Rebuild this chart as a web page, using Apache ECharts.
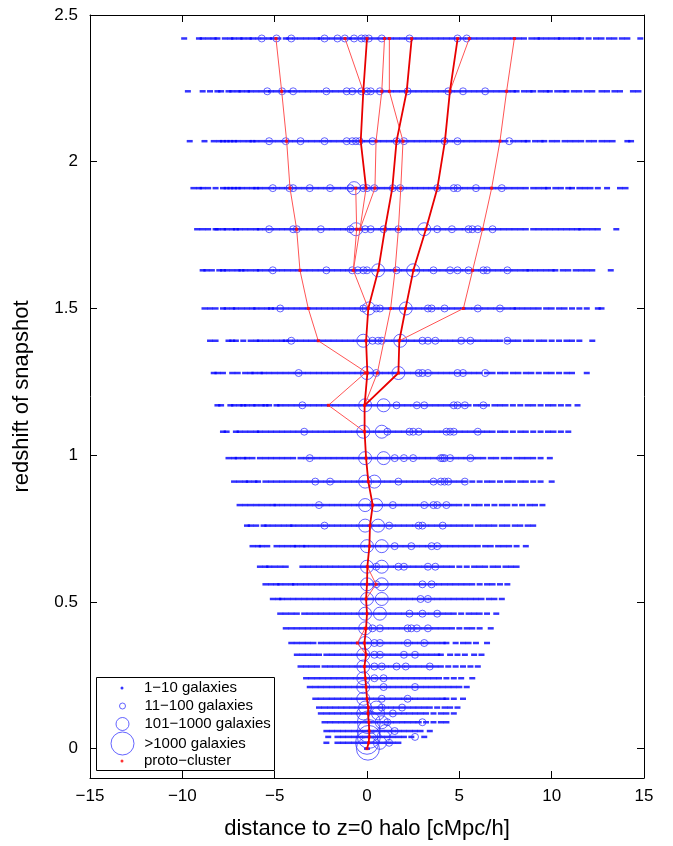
<!DOCTYPE html>
<html>
<head>
<meta charset="utf-8">
<script src="https://cdn.jsdelivr.net/npm/echarts@6/dist/echarts.min.js"></script>
<style>
  html, body { margin: 0; padding: 0; background: #fff; }
  #main { width: 673px; height: 846px; }
</style>
</head>
<body>
<div id="main"></div>
<script>
// snapshot redshifts, top row first
var snapZ = [2.42, 2.24, 2.07, 1.91, 1.77, 1.63, 1.50, 1.39, 1.28, 1.17, 1.08, 0.99, 0.91, 0.83, 0.76, 0.69, 0.62,
  0.56, 0.51, 0.46, 0.41, 0.36, 0.32, 0.28, 0.24, 0.21, 0.17, 0.14, 0.12, 0.09, 0.06, 0.04, 0.02, 0.00];

// halos with 1-10 galaxies (x distance per snapshot row)
var smallHalos = [
  [-9.9,-9.1,-8.9,-8.6,-8.3,-8.1,-7.7,-7.4,-7.2,-6.9,-6.7,-6.4,-6.2,-5.9,-5.6,-5.3,-5.1,-4.8,-4.4,-4.2,-3.9,-3.6,-3.3,-3.0,-2.7,-2.5,-2.2,-1.9,-1.6,-1.3,-1.0,-0.8,-0.5,-0.2,0.1,0.4,0.7,1.0,1.3,1.6,1.9,2.2,2.5,2.8,3.1,3.4,3.7,4.0,4.3,4.6,4.9,5.2,5.5,5.8,6.1,6.4,6.7,7.0,7.3,7.6,7.9,8.2,8.5,8.9,9.2,9.4,9.7,10.0,10.3,10.5,10.8,11.1,11.4,11.6,12.0,12.4,12.7,13.1,13.4,13.8,14.1,14.8],
  [-9.7,-8.9,-8.5,-8.1,-7.9,-7.5,-7.3,-7.0,-6.8,-6.5,-6.3,-6.0,-5.7,-5.4,-5.2,-4.9,-4.6,-4.3,-4.1,-3.8,-3.5,-3.2,-2.9,-2.6,-2.3,-2.0,-1.7,-1.4,-1.1,-0.8,-0.5,-0.2,0.1,0.4,0.7,1.0,1.3,1.6,1.9,2.2,2.5,2.8,3.1,3.4,3.7,4.0,4.3,4.6,4.9,5.2,5.5,5.8,6.1,6.4,6.7,7.0,7.3,7.6,7.9,8.1,8.5,8.8,9.0,9.4,9.7,9.9,10.3,10.6,10.8,11.2,11.5,11.9,12.2,12.7,13.0,13.4,13.7,14.4,14.7],
  [-9.6,-8.8,-8.3,-8.0,-7.8,-7.6,-7.4,-7.2,-7.0,-6.7,-6.4,-6.2,-6.0,-5.7,-5.4,-5.1,-4.8,-4.5,-4.2,-3.9,-3.6,-3.3,-3.0,-2.7,-2.4,-2.1,-1.8,-1.5,-1.2,-0.9,-0.6,-0.3,0.0,0.3,0.6,0.9,1.2,1.5,1.8,2.1,2.4,2.7,3.0,3.3,3.6,3.9,4.2,4.5,4.8,5.1,5.4,5.7,6.0,6.3,6.6,6.9,7.2,7.5,7.9,8.2,8.5,8.7,9.1,9.4,9.6,10.0,10.3,10.7,11.0,11.3,11.6,12.0,12.3,12.7,13.0,13.3,14.1,14.3],
  [-9.4,-9.1,-8.9,-8.6,-8.2,-7.8,-7.6,-7.4,-7.2,-7.0,-6.8,-6.5,-6.2,-6.0,-5.8,-5.5,-5.2,-4.9,-4.6,-4.3,-4.0,-3.7,-3.4,-3.1,-2.8,-2.5,-2.2,-1.9,-1.6,-1.3,-1.0,-0.7,-0.4,-0.1,0.2,0.5,0.8,1.1,1.4,1.7,2.0,2.3,2.6,2.9,3.2,3.5,3.8,4.1,4.4,4.7,5.0,5.3,5.6,5.9,6.2,6.5,6.8,7.1,7.4,7.7,8.0,8.3,8.6,9.0,9.3,9.6,9.8,10.2,10.5,10.9,11.1,11.5,11.8,12.1,12.5,13.0,13.7,14.0],
  [-9.2,-8.9,-8.6,-8.2,-8.1,-7.8,-7.6,-7.3,-7.1,-6.9,-6.6,-6.3,-6.0,-5.8,-5.5,-5.2,-4.9,-4.6,-4.3,-4.0,-3.7,-3.4,-3.1,-2.8,-2.5,-2.2,-1.9,-1.6,-1.3,-1.0,-0.7,-0.4,-0.1,0.2,0.5,0.8,1.1,1.4,1.7,2.0,2.3,2.6,2.9,3.2,3.5,3.8,4.1,4.4,4.7,5.0,5.3,5.6,5.9,6.2,6.5,6.8,7.1,7.4,7.7,8.0,8.3,8.6,9.0,9.3,9.6,9.9,10.2,10.5,10.8,11.1,11.4,11.6,11.9,12.2,12.5,13.5],
  [-8.9,-8.7,-8.4,-8.0,-7.8,-7.6,-7.3,-7.0,-6.8,-6.6,-6.3,-6.0,-5.8,-5.5,-5.2,-4.9,-4.6,-4.3,-4.0,-3.7,-3.4,-3.1,-2.8,-2.5,-2.2,-1.9,-1.6,-1.3,-1.0,-0.7,-0.4,-0.1,0.2,0.5,0.8,1.1,1.4,1.7,2.0,2.3,2.6,2.9,3.2,3.5,3.8,4.1,4.4,4.7,5.0,5.3,5.6,5.9,6.2,6.5,6.8,7.1,7.4,7.7,8.0,8.3,8.6,8.8,9.1,9.4,9.7,10.0,10.2,10.6,10.9,11.3,11.6,11.9,12.2,13.2],
  [-8.8,-8.5,-8.2,-7.8,-7.6,-7.3,-7.1,-6.8,-6.5,-6.2,-6.0,-5.7,-5.4,-5.2,-5.0,-4.7,-4.4,-4.1,-3.8,-3.5,-3.2,-2.9,-2.6,-2.3,-2.0,-1.7,-1.4,-1.1,-0.8,-0.5,-0.2,0.1,0.4,0.7,1.0,1.3,1.6,1.9,2.2,2.5,2.8,3.1,3.4,3.7,4.0,4.3,4.6,4.9,5.2,5.5,5.8,6.1,6.4,6.7,7.0,7.3,7.6,7.9,8.1,8.4,8.7,9.0,9.3,9.7,10.0,10.4,10.7,11.1,11.5,11.9,12.5,12.7],
  [-8.5,-8.2,-7.5,-7.3,-7.1,-6.7,-6.3,-6.0,-5.8,-5.5,-5.2,-4.9,-4.6,-4.4,-4.2,-3.9,-3.6,-3.3,-3.0,-2.7,-2.4,-2.1,-1.8,-1.5,-1.2,-0.9,-0.6,-0.3,0.0,0.3,0.6,0.9,1.2,1.5,1.8,2.1,2.4,2.7,3.0,3.3,3.6,3.9,4.2,4.5,4.8,5.1,5.4,5.7,6.0,6.3,6.6,6.9,7.2,7.6,7.9,8.2,8.6,8.9,9.3,9.6,10.0,10.4,10.8,11.1,11.5,12.2],
  [-8.3,-8.1,-7.8,-7.3,-7.0,-6.6,-6.3,-6.1,-5.8,-5.6,-5.3,-5.0,-4.7,-4.4,-4.1,-3.8,-3.5,-3.2,-2.9,-2.6,-2.3,-2.0,-1.7,-1.4,-1.1,-0.8,-0.5,-0.2,0.1,0.4,0.7,1.0,1.3,1.6,1.9,2.2,2.5,2.8,3.1,3.4,3.7,4.0,4.3,4.6,4.9,5.2,5.5,5.8,6.1,6.5,6.8,7.2,7.5,7.9,8.2,8.6,8.9,9.3,9.7,10.0,10.4,10.8,11.1,11.9],
  [-8.1,-7.9,-7.4,-7.2,-6.9,-6.7,-6.5,-6.2,-6.0,-5.7,-5.5,-5.3,-4.9,-4.7,-4.4,-4.1,-3.8,-3.5,-3.2,-2.9,-2.6,-2.3,-2.0,-1.7,-1.4,-1.1,-0.8,-0.5,-0.2,0.1,0.4,0.7,1.0,1.3,1.6,1.9,2.2,2.5,2.8,3.1,3.4,3.7,4.0,4.3,4.6,4.9,5.2,5.5,5.9,6.2,6.5,6.9,7.2,7.5,7.9,8.3,8.7,9.0,9.4,9.8,10.1,10.5,10.9,11.4],
  [-7.8,-7.6,-7.1,-6.9,-6.6,-6.3,-6.0,-5.8,-5.5,-5.2,-4.9,-4.6,-4.3,-4.0,-3.7,-3.4,-3.1,-2.8,-2.5,-2.2,-1.9,-1.6,-1.3,-1.0,-0.7,-0.4,-0.1,0.2,0.5,0.8,1.1,1.4,1.7,2.0,2.3,2.6,2.9,3.2,3.5,3.8,4.1,4.4,4.7,5.0,5.3,5.6,5.9,6.2,6.5,6.8,7.2,7.5,7.9,8.3,8.6,9.0,9.4,9.8,10.1,10.5,10.9],
  [-7.5,-7.2,-7.0,-6.7,-6.5,-6.2,-5.8,-5.5,-5.2,-4.9,-4.6,-4.3,-4.0,-3.6,-3.3,-3.0,-2.7,-2.4,-2.1,-1.8,-1.5,-1.2,-0.9,-0.6,-0.3,0.0,0.3,0.6,0.9,1.2,1.5,1.8,2.1,2.4,2.7,3.0,3.3,3.6,3.9,4.2,4.5,4.8,5.1,5.4,5.7,6.0,6.3,6.7,7.0,7.4,7.7,8.1,8.4,8.7,9.0,9.4,9.9],
  [-7.2,-6.9,-6.6,-6.4,-6.1,-5.9,-5.5,-5.2,-4.9,-4.6,-4.3,-4.0,-3.7,-3.4,-3.1,-2.8,-2.5,-2.2,-1.9,-1.6,-1.3,-1.0,-0.7,-0.4,-0.1,0.2,0.5,0.8,1.1,1.4,1.7,2.0,2.3,2.6,2.9,3.2,3.5,3.8,4.1,4.4,4.7,5.0,5.3,5.7,6.1,6.5,6.8,7.2,7.6,7.9,8.3,8.6,9.0,9.4,10.0],
  [-6.9,-6.6,-6.3,-6.0,-5.7,-5.4,-5.1,-4.9,-4.6,-4.3,-4.0,-3.7,-3.4,-3.1,-2.8,-2.5,-2.2,-1.9,-1.6,-1.3,-1.0,-0.7,-0.4,-0.1,0.2,0.5,0.8,1.1,1.4,1.7,2.0,2.3,2.6,2.9,3.2,3.5,3.8,4.1,4.4,4.7,5.0,5.4,5.8,6.1,6.5,6.9,7.3,7.6,8.0,8.4,8.8,9.1,9.5],
  [-6.5,-6.3,-6.0,-5.6,-5.4,-5.1,-4.8,-4.5,-4.2,-4.0,-3.7,-3.4,-3.1,-2.8,-2.5,-2.2,-1.9,-1.6,-1.3,-1.0,-0.7,-0.4,-0.1,0.2,0.5,0.8,1.1,1.4,1.7,2.0,2.3,2.6,2.9,3.2,3.5,3.8,4.1,4.4,4.7,5.0,5.3,5.6,6.0,6.3,6.6,6.9,7.3,7.6,8.0,8.3,8.7,9.0],
  [-6.2,-5.9,-5.7,-5.4,-4.9,-4.6,-4.3,-4.0,-3.8,-3.5,-3.3,-3.0,-2.7,-2.4,-2.1,-1.8,-1.5,-1.2,-0.9,-0.6,-0.3,0.0,0.3,0.6,0.9,1.2,1.5,1.8,2.1,2.4,2.7,3.0,3.3,3.6,3.9,4.2,4.5,4.8,5.1,5.4,5.7,6.0,6.4,6.7,7.1,7.4,7.7,8.1,8.6],
  [-5.8,-5.5,-5.3,-5.0,-4.7,-4.4,-3.5,-3.2,-2.9,-2.6,-2.3,-2.0,-1.7,-1.4,-1.1,-0.8,-0.5,-0.2,0.1,0.4,0.7,1.0,1.3,1.6,1.9,2.2,2.5,2.8,3.1,3.4,3.7,4.0,4.3,4.6,5.0,5.4,5.8,6.1,6.4,6.8,7.1,7.5,7.8,8.1],
  [-5.5,-5.2,-4.9,-4.7,-4.4,-4.1,-3.9,-3.6,-3.3,-3.0,-2.7,-2.4,-2.1,-1.8,-1.5,-1.2,-0.9,-0.6,-0.3,0.0,0.3,0.6,0.9,1.2,1.5,1.8,2.1,2.4,2.7,3.0,3.3,3.6,3.9,4.2,4.5,4.8,5.1,5.4,5.7,6.1,6.5,6.8,7.2,7.6],
  [-5.1,-4.8,-4.6,-4.3,-4.0,-3.7,-3.4,-3.1,-2.8,-2.5,-2.2,-1.9,-1.6,-1.3,-1.0,-0.7,-0.4,-0.1,0.2,0.5,0.8,1.1,1.4,1.7,2.0,2.3,2.6,2.9,3.2,3.5,3.8,4.1,4.4,4.7,5.0,5.3,5.6,5.9,6.2,6.6,6.9,7.3],
  [-4.7,-4.4,-4.1,-3.8,-3.4,-3.1,-2.8,-2.5,-2.2,-1.9,-1.6,-1.3,-1.0,-0.7,-0.4,-0.1,0.2,0.5,0.8,1.1,1.4,1.7,2.0,2.3,2.6,2.9,3.2,3.5,3.8,4.1,4.4,4.7,5.1,5.5,5.8,6.1,6.5,7.0],
  [-4.4,-4.1,-3.8,-3.5,-3.2,-2.9,-2.6,-2.3,-2.0,-1.7,-1.4,-1.1,-0.8,-0.5,-0.2,0.1,0.4,0.7,1.0,1.3,1.6,1.9,2.2,2.5,2.8,3.1,3.4,3.7,4.0,4.3,4.6,5.0,5.4,5.7,6.1,6.7],
  [-4.1,-3.8,-3.5,-3.2,-2.9,-2.5,-2.2,-1.9,-1.6,-1.3,-1.0,-0.7,-0.4,-0.1,0.2,0.5,0.8,1.1,1.4,1.7,2.0,2.3,2.6,2.9,3.2,3.5,3.8,4.1,4.3,4.8,5.2,5.5,5.9,6.5],
  [-3.8,-3.5,-3.2,-2.9,-2.6,-2.2,-1.9,-1.6,-1.3,-1.0,-0.7,-0.4,-0.1,0.2,0.5,0.8,1.1,1.4,1.7,2.0,2.3,2.6,2.9,3.2,3.5,3.8,4.0,4.5,4.9,5.3,5.8,6.2],
  [-3.6,-3.3,-3.0,-2.7,-2.3,-2.0,-1.7,-1.4,-1.1,-0.8,-0.5,-0.2,0.1,0.4,0.7,1.0,1.3,1.6,1.9,2.2,2.5,2.8,3.1,3.4,3.7,4.0,4.4,4.8,5.2,5.6,6.0],
  [-3.3,-3.0,-2.7,-2.4,-2.1,-1.8,-1.5,-1.2,-0.9,-0.6,-0.3,0.0,0.3,0.6,0.9,1.2,1.5,1.8,2.1,2.4,2.7,3.0,3.3,3.6,3.9,4.3,4.7,5.1,5.7],
  [-3.1,-2.8,-2.5,-2.2,-1.9,-1.6,-1.3,-1.0,-0.7,-0.4,-0.1,0.2,0.5,0.8,1.1,1.4,1.7,2.0,2.3,2.6,2.9,3.2,3.5,3.8,4.1,4.4,4.7,5.0,5.4],
  [-2.8,-2.5,-2.2,-1.9,-1.6,-1.3,-1.0,-0.7,-0.4,-0.1,0.2,0.5,0.8,1.1,1.4,1.7,2.0,2.3,2.6,2.9,3.2,3.5,3.8,4.1,4.3,4.7,5.2],
  [-2.6,-2.3,-2.0,-1.7,-1.4,-1.1,-0.8,-0.5,-0.2,0.1,0.4,0.7,1.0,1.3,1.6,1.9,2.2,2.5,2.8,3.1,3.4,3.8,4.2,4.5,4.9],
  [-2.5,-2.2,-1.9,-1.6,-1.3,-1.0,-0.7,-0.4,-0.1,0.2,0.5,0.8,1.1,1.4,1.7,2.0,2.3,2.6,2.9,3.2,3.6,4.0,4.3,4.7],
  [-2.3,-2.0,-1.7,-1.4,-1.1,-0.8,-0.5,-0.2,0.1,0.4,0.7,1.0,1.3,1.6,1.9,2.2,2.5,2.8,3.2,3.6,4.0,4.3],
  [-2.2,-1.9,-1.6,-1.3,-1.0,-0.7,-0.4,-0.1,0.2,0.5,0.8,1.1,1.4,1.7,2.0,2.3,2.6,2.9,3.4],
  [-2.1,-1.6,-1.3,-1.0,-0.7,-0.4,-0.1,0.2,0.5,0.8,1.1,1.4,1.7,2.0,2.4,3.1],
  [-2.2,-1.6,-1.3,-1.0,-0.7,-0.4,-0.1,0.2,0.5,0.8,1.1,1.4,1.7],
  [0.0]
];

// halos with 11-100 galaxies
var midHalos = [
  [-5.7,-4.9,-4.1,-2.3,-1.6,-1.2,-0.7,-0.3,-0.1,0.1,0.8,2.3,4.9,5.4],
  [-5.4,-4.6,-4.0,-2.2,-1.1,-0.8,-0.3,0.0,0.2,0.7,2.2,4.4,5.2,6.4],
  [-5.3,-4.4,-3.6,-2.3,-1.1,-0.8,-0.6,-0.4,0.3,1.6,2.0,4.2,4.9,7.7],
  [-5.1,-4.2,-4.0,-3.1,-2.0,-0.9,-0.2,0.0,0.4,1.4,1.8,3.8,4.7,4.9,5.9,7.3],
  [-5.3,-4.0,-3.8,-2.5,-0.9,-0.1,0.2,0.9,1.7,3.8,4.6,5.5,5.7,6.0,6.8],
  [-5.1,-2.2,-0.8,-0.5,-0.2,0.0,1.6,3.6,4.5,4.9,5.5,6.3,6.5,7.6],
  [-4.7,-0.2,0.5,0.7,3.3,3.5,4.2,6.0,7.2],
  [-4.1,0.3,0.6,0.8,3.0,3.3,3.7,5.1,5.6,7.6],
  [-3.7,0.5,2.8,3.0,3.3,4.9,5.2,6.4],
  [-3.5,1.6,2.7,3.1,4.7,4.9,5.3,6.3],
  [-3.4,1.1,2.3,2.5,2.8,4.3,4.5,4.7,6.0],
  [-3.1,1.5,2.0,2.5,4.0,4.1,4.2,4.5,5.6],
  [-2.8,-2.0,1.7,3.6,4.0,4.2,4.4,5.3],
  [-2.6,1.4,3.1,3.6,3.8,4.3],
  [-2.3,1.2,2.8,3.0,4.1],
  [1.5,2.4,3.5,3.8],
  [0.5,1.7,2.0,3.3,3.7],
  [0.5,3.0,3.5],
  [2.9,3.3],
  [2.3,3.0,3.8],
  [0.3,0.7,2.2,2.4,2.7,3.3],
  [0.4,0.7,2.2,3.1],
  [0.4,0.7,2.0,2.6],
  [0.4,0.8,1.6,2.1,3.4],
  [0.4,0.9],
  [0.9,2.6],
  [0.8,2.2],
  [0.8,1.9],
  [1.4],
  [1.1,3.0],
  [1.5],
  [2.6],
  [1.2],
  []
];

// halos with 101-1000 galaxies
var bigHalos = [
  [], [], [], [-0.7], [-0.6,3.1], [0.6,2.5], [0.1,2.1], [-0.2,1.8], [0.0,1.7], [-0.1,0.9], [-0.2,0.8],
  [-0.1,0.9], [-0.1,0.4], [-0.1,0.5], [-0.1,0.6], [0.0,0.8], [0.0,0.8], [0.0,0.8], [0.0,0.8], [-0.1,0.7],
  [-0.1], [-0.1], [-0.2], [-0.2], [-0.2], [-0.2], [-0.2], [-0.1,0.5], [-0.2,0.6], [0.8], [1.0], [0.9], [0.7], []
];

// halos with more than 1000 galaxies
var hugeHalos = [
  [], [], [], [], [], [], [], [], [], [], [], [], [], [], [], [], [],
  [], [], [], [], [], [], [], [], [], [], [], [], [0.1], [0.1], [0.1], [0.0], [0.05]
];

// proto-cluster merger tree, main progenitor lines (x, z)
var thickBranches = [
  [[0.0,0.00],[0.09,0.02],[0.12,0.04],[0.12,0.06],[0.10,0.09],[0.05,0.12],[0.07,0.14],[0.0,0.17],[-0.05,0.21],
   [-0.09,0.24],[-0.14,0.28],[-0.05,0.32],[-0.14,0.36],[-0.05,0.41],[0.0,0.46],[-0.05,0.51],[0.0,0.56],[0.02,0.62],
   [0.13,0.69],[0.16,0.76],[0.31,0.83],[0.07,0.91],[-0.05,0.99],[-0.13,1.08],[-0.13,1.17],[0.02,1.28],[-0.05,1.39],
   [0.07,1.50],[0.61,1.63],[0.97,1.77],[1.37,1.91],[1.6,2.07],[2.15,2.24],[2.42,2.42]],
  [[-0.13,1.17],[1.7,1.28],[1.75,1.39],[2.09,1.50],[2.51,1.63],[3.19,1.77],[3.81,1.91],[4.22,2.07],[4.49,2.24],[4.91,2.42]],
  [[-0.05,1.91],[-0.34,2.07],[-0.2,2.24],[0.0,2.42]]
];

// other proto-cluster progenitors
var thinBranches = [
  [[4.49,2.24],[5.54,2.42]],
  [[1.75,1.39],[5.22,1.50],[5.72,1.63],[6.26,1.77],[6.75,1.91],[7.2,2.07],[7.56,2.24],[7.98,2.42]],
  [[0.02,1.28],[-2.64,1.39],[-3.18,1.50],[-3.63,1.63],[-3.81,1.77],[-4.17,1.91],[-4.35,2.07],[-4.62,2.24],[-4.93,2.42]],
  [[-0.13,1.08],[-2.09,1.17],[-0.1,1.28]],
  [[-0.13,1.17],[0.56,1.28],[1.28,1.50],[1.52,1.63],[1.7,1.77],[1.83,1.91],[1.95,2.07],[1.21,2.24],[1.21,2.42]],
  [[-0.2,2.24],[-1.19,2.42]],
  [[0.07,1.50],[-0.74,1.63],[-0.38,1.77],[-0.05,1.91]],
  [[-0.38,1.77],[0.43,1.91],[0.49,2.07],[0.8,2.24],[0.95,2.42]],
  [[-0.74,1.63],[-0.56,1.77],[-0.61,1.91]],
  [[-0.05,0.32],[-0.52,0.36],[-0.1,0.41]],
  [[-0.05,0.51],[0.49,0.56],[0.02,0.62]]
];

var yTicks = [0, 0.5, 1, 1.5, 2, 2.5];
var FONT = 'Liberation Sans, Arial, Helvetica, sans-serif';

function rowPoints(rows) {
  var out = [];
  rows.forEach(function (xs, i) {
    xs.forEach(function (x) { out.push([x, snapZ[i]]); });
  });
  return out;
}

var protoPts = [];
var seen = {};
thickBranches.concat(thinBranches).forEach(function (b) {
  b.forEach(function (p) {
    var k = p[0] + '_' + p[1];
    if (!seen[k]) { seen[k] = 1; protoPts.push(p); }
  });
});

var ring = function (c) {
  return { color: 'rgba(0,0,0,0)', borderColor: c, borderWidth: 1 };
};
var circleCol = 'rgba(40,40,255,0.9)';

var series = [
  {
    name: '1\u221210 galaxies', type: 'scatter', data: rowPoints(smallHalos),
    symbol: 'rect', symbolSize: [6, 2.5], itemStyle: { color: '#0000ff' }, z: 2, silent: true
  },
  {
    name: '11\u2212100 galaxies', type: 'scatter', data: rowPoints(midHalos),
    symbol: 'circle', symbolSize: 7, itemStyle: ring(circleCol), z: 3, silent: true
  },
  {
    name: '101\u22121000 galaxies', type: 'scatter', data: rowPoints(bigHalos),
    symbol: 'circle', symbolSize: 13, itemStyle: ring(circleCol), z: 3, silent: true
  },
  {
    name: '>1000 galaxies', type: 'scatter', data: rowPoints(hugeHalos),
    symbol: 'circle', symbolSize: 23, itemStyle: ring(circleCol), z: 3, silent: true
  }
];

thinBranches.forEach(function (b) {
  series.push({
    type: 'line', data: b, showSymbol: false, silent: true, z: 4,
    lineStyle: { color: '#ff5555', width: 1 }
  });
});
thickBranches.forEach(function (b) {
  series.push({
    type: 'line', data: b, showSymbol: false, silent: true, z: 5,
    lineStyle: { color: '#e80000', width: 1.8 }
  });
});
series.push({
  name: 'proto\u2212cluster', type: 'scatter', data: protoPts,
  symbol: 'rect', symbolSize: 3, itemStyle: { color: '#ff0000' }, z: 6, silent: true
});

// legend rows: one legend per entry so the icons can have different sizes
var legendRows = [
  { name: '1\u221210 galaxies', y: 688, d: 3, style: { color: '#0000ff', borderWidth: 0 } },
  { name: '11\u2212100 galaxies', y: 706, d: 6, style: ring(circleCol) },
  { name: '101\u22121000 galaxies', y: 724, d: 13, style: ring(circleCol) },
  { name: '>1000 galaxies', y: 743, d: 23, style: ring(circleCol) },
  { name: 'proto\u2212cluster', y: 761, d: 3, style: { color: '#ff0000', borderWidth: 0 } }
];
var legends = legendRows.map(function (r) {
  var h = Math.max(r.d, 15);
  return {
    show: true, orient: 'vertical', left: 122 - r.d / 2, top: r.y - h / 2, padding: 0, z: 20,
    itemWidth: r.d, itemHeight: r.d, selectedMode: false,
    data: [{ name: r.name, icon: 'circle' }],
    itemStyle: r.style,
    textStyle: { fontFamily: FONT, fontSize: 15, color: '#000', padding: [0, 0, 0, 17 - r.d / 2] }
  };
});

var axisLine = { show: true, onZero: false, lineStyle: { color: '#000', width: 1 } };
var tick = { show: true, inside: true, length: 7, lineStyle: { color: '#000', width: 1 } };
var minus = function (v) { return String(v).replace('-', '\u2212'); };

var myChart = echarts.init(document.getElementById('main'), null, { renderer: 'canvas' });
var option = {
  animation: false,
  backgroundColor: '#fff',
  grid: { left: 90, right: 29, top: 15, bottom: 68, containLabel: false },
  xAxis: [
    {
      type: 'value', min: -15, max: 15, interval: 5, position: 'bottom',
      axisLine: axisLine, axisTick: tick, splitLine: { show: false },
      axisLabel: { color: '#000', fontFamily: FONT, fontSize: 17, margin: 10, formatter: minus },
      name: 'distance to z=0 halo [cMpc/h]', nameLocation: 'middle', nameGap: 40,
      nameTextStyle: { color: '#000', fontFamily: FONT, fontSize: 22 }
    },
    {
      type: 'value', min: -15, max: 15, interval: 5, position: 'top',
      axisLine: axisLine, axisTick: tick, splitLine: { show: false }, axisLabel: { show: false }
    }
  ],
  yAxis: [
    {
      type: 'value', min: -0.1, max: 2.5, position: 'left',
      axisLine: axisLine,
      axisTick: { show: true, inside: true, length: 7, lineStyle: { color: '#000' }, customValues: yTicks },
      splitLine: { show: false },
      axisLabel: { color: '#000', fontFamily: FONT, fontSize: 17, margin: 12, customValues: yTicks },
      name: 'redshift of snapshot', nameLocation: 'middle', nameGap: 57,
      nameTextStyle: { color: '#000', fontFamily: FONT, fontSize: 22 }
    },
    {
      type: 'value', min: -0.1, max: 2.5, position: 'right',
      axisLine: axisLine,
      axisTick: { show: true, inside: true, length: 7, lineStyle: { color: '#000' }, customValues: yTicks },
      splitLine: { show: false }, axisLabel: { show: false }
    }
  ],
  legend: legends,
  graphic: [{
    type: 'rect', z: 10, silent: true,
    shape: { x: 96.5, y: 677.5, width: 178, height: 93 },
    style: { fill: '#fff', stroke: '#000', lineWidth: 1 }
  }],
  series: series
};
myChart.setOption(option);
</script>
</body>
</html>
